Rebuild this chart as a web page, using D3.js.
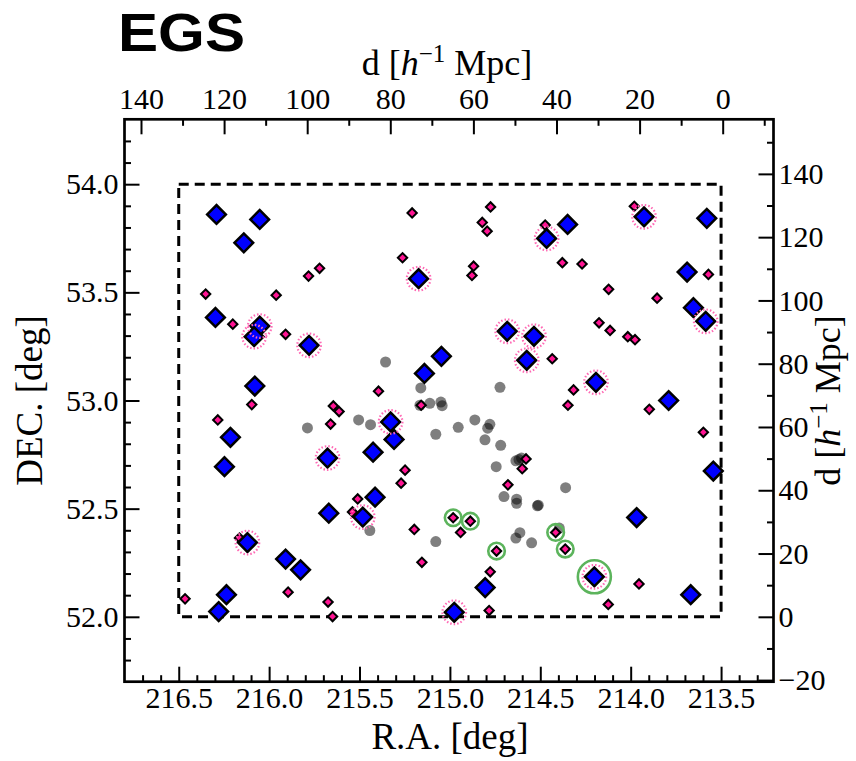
<!DOCTYPE html>
<html>
<head>
<meta charset="utf-8">
<script src="https://cdn.jsdelivr.net/npm/d3@7"></script>
<style>
  html, body { margin: 0; padding: 0; background: #fff; }
  svg { display: block; }
  text { font-family: "Liberation Serif", "Times New Roman", serif; fill: #000; }
  text.title { font-family: "Liberation Sans", Arial, sans-serif; font-weight: bold; }
</style>
</head>
<body>
<svg id="chart" width="856" height="761"></svg>
<script>
// Survey field outline, degrees
const fieldRA = [216.5, 213.5];
const fieldDEC = [52.0, 54.0];

// Blue diamonds: [R.A., DEC.] in degrees
const blueObjs = [
  [216.291, 53.860], [216.052, 53.837], [216.140, 53.729], [215.173, 53.563],
  [216.297, 53.384], [216.052, 53.344], [216.083, 53.295], [215.779, 53.255],
  [215.047, 53.204], [215.141, 53.125], [216.079, 53.067], [215.328, 52.901],
  [215.309, 52.820], [215.425, 52.761], [215.677, 52.734], [216.214, 52.830],
  [216.247, 52.694], [215.414, 52.553], [215.670, 52.479], [215.482, 52.461],
  [216.120, 52.343], [215.909, 52.267], [215.826, 52.217], [216.236, 52.102],
  [216.279, 52.024], [214.976, 52.021], [214.805, 52.135], [214.201, 52.185],
  [213.967, 52.459], [213.668, 52.102], [213.543, 52.674], [213.790, 53.000],
  [213.585, 53.366], [213.653, 53.429], [213.688, 53.594], [213.579, 53.842],
  [213.926, 53.849], [214.349, 53.814], [214.465, 53.749], [214.683, 53.320],
  [214.535, 53.297], [214.575, 53.186], [214.192, 53.084]
];

// Pink diamonds: [R.A., DEC.]
const pinkObjs = [
  [215.209, 53.867], [215.262, 53.660], [215.782, 53.575], [215.721, 53.611],
  [216.351, 53.492], [215.961, 53.487], [216.201, 53.353], [215.909, 53.306],
  [215.395, 53.043], [216.096, 52.981], [215.645, 52.975], [215.613, 52.949],
  [215.159, 52.978], [216.284, 52.910], [215.660, 52.891], [215.248, 52.678],
  [215.270, 52.618], [215.510, 52.545], [215.539, 52.485], [216.164, 52.364],
  [215.197, 52.404], [215.155, 52.252], [216.465, 52.083], [215.895, 52.114],
  [215.674, 52.068], [215.649, 52.001], [214.775, 53.895], [214.821, 53.823],
  [214.794, 53.783], [214.473, 53.811], [213.980, 53.898], [214.378, 53.637],
  [214.269, 53.631], [214.869, 53.621], [214.878, 53.578], [213.570, 53.583],
  [214.122, 53.514], [213.854, 53.473], [214.175, 53.359], [214.114, 53.324],
  [214.016, 53.295], [213.976, 53.281], [214.434, 53.193], [214.316, 53.049],
  [214.347, 52.978], [213.897, 52.959], [213.598, 52.853], [214.579, 52.730],
  [214.600, 52.685], [214.679, 52.610], [214.982, 52.458], [214.887, 52.442],
  [214.941, 52.390], [214.415, 52.390], [214.362, 52.313], [214.742, 52.304],
  [214.777, 52.208], [213.954, 52.152], [214.783, 52.029], [214.124, 52.057]
];

// Grey translucent points: [R.A., DEC.]
const grayObjs = [
  [215.356, 53.178], [215.161, 53.058], [215.166, 52.978], [215.111, 52.987],
  [215.050, 52.993], [215.043, 52.976], [214.723, 53.061], [215.505, 52.910],
  [215.439, 52.888], [215.078, 52.844], [214.954, 52.876], [214.862, 52.910],
  [214.779, 52.890], [214.791, 52.872], [214.806, 52.818], [214.719, 52.793],
  [214.635, 52.721], [214.618, 52.727], [214.604, 52.734], [214.744, 52.694],
  [214.360, 52.597], [214.701, 52.556], [214.631, 52.544], [214.631, 52.525],
  [214.511, 52.516], [214.516, 52.513], [215.443, 52.399], [215.078, 52.348],
  [214.613, 52.389], [214.635, 52.364], [214.548, 52.342], [214.395, 52.410],
  [215.788, 52.873]
];

// Which blue diamonds carry a dotted pink ring, and which objects get a green ring
const ringedBlue = [3, 5, 6, 7, 11, 14, 19, 20, 25, 27, 32, 36, 38, 39, 40, 41, 42];
const greenPink = [50, 51, 53, 54, 55];
const greenBlue = [27];

// Tick positions
const raTicks = [216.5, 216.0, 215.5, 215.0, 214.5, 214.0, 213.5];
const decTicks = [52.0, 52.5, 53.0, 53.5, 54.0];
const distTopTicks = [0, 20, 40, 60, 80, 100, 120, 140];
const distRightTicks = [-20, 0, 20, 40, 60, 80, 100, 120, 140];

// Comoving-distance conversion along DEC (h^-1 Mpc per degree)
const mpcPerDegDec = 68.37;

const svg = d3.select("#chart");
const L = 124.5, R = 773.5, T = 119.3, B = 681.7;

const x = d3.scaleLinear().domain([216.8, 213.21]).range([L, R]);
const y = d3.scaleLinear().domain([51.7, 54.3]).range([B, T]);
const yDist = d3.scaleLinear()
  .domain([(51.7 - fieldDEC[0]) * mpcPerDegDec, (54.3 - fieldDEC[0]) * mpcPerDegDec])
  .range([B, T]);
const xDist = d3.scaleLinear().domain([143.97, -12.23]).range([L, R]);

// Field boundary
svg.append("rect")
  .attr("x", x(fieldRA[0])).attr("y", y(fieldDEC[1]))
  .attr("width", x(fieldRA[1]) - x(fieldRA[0]))
  .attr("height", y(fieldDEC[0]) - y(fieldDEC[1]))
  .attr("fill", "none").attr("stroke", "#000")
  .attr("stroke-width", 3).attr("stroke-dasharray", "10,6");

// Grey points
svg.append("g").selectAll("circle").data(grayObjs).join("circle")
  .attr("cx", d => x(d[0])).attr("cy", d => y(d[1])).attr("r", 5.5)
  .attr("fill", "#000").attr("fill-opacity", 0.5);

const diamond = (s) => d3.symbol().type(d3.symbolSquare).size(s)();

// Pink diamonds
svg.append("g").selectAll("path").data(pinkObjs).join("path")
  .attr("d", diamond(44))
  .attr("transform", d => `translate(${x(d[0])},${y(d[1])}) rotate(45)`)
  .attr("fill", "#ff1493").attr("stroke", "#000").attr("stroke-width", 2);

// Blue diamonds
svg.append("g").selectAll("path").data(blueObjs).join("path")
  .attr("d", diamond(175))
  .attr("transform", d => `translate(${x(d[0])},${y(d[1])}) rotate(45)`)
  .attr("fill", "#0000ff").attr("stroke", "#000").attr("stroke-width", 2.5);

// Dotted pink rings
svg.append("g").selectAll("circle").data(ringedBlue.map(i => blueObjs[i])).join("circle")
  .attr("cx", d => x(d[0])).attr("cy", d => y(d[1])).attr("r", 11.8)
  .attr("fill", "none").attr("stroke", "#ff69b4").attr("stroke-width", 2.2)
  .attr("stroke-dasharray", "1.5,2");

// Green rings
const greenStyle = sel => sel.attr("fill", "none").attr("stroke", "#5cb45c")
  .attr("stroke-width", 2.6);
svg.append("g").selectAll("circle").data(greenPink.map(i => pinkObjs[i])).join("circle")
  .attr("cx", d => x(d[0])).attr("cy", d => y(d[1])).attr("r", 8.3)
  .call(greenStyle);
svg.append("g").selectAll("circle").data(greenBlue.map(i => blueObjs[i])).join("circle")
  .attr("cx", d => x(d[0])).attr("cy", d => y(d[1])).attr("r", 16.5)
  .call(greenStyle);

// Axes
const MAJ = -15, MIN = -6.5;
function minorRange(a, b, step, majors) {
  const out = [];
  for (let v = Math.round(a / step); v <= Math.round(b / step); v++) {
    const val = +(v * step).toFixed(4);
    if (!majors.some(m => Math.abs(m - val) < 1e-6)) out.push(val);
  }
  return out;
}
function styleAxis(g) {
  g.select(".domain").remove();
  g.selectAll(".tick line").attr("stroke", "#000").attr("stroke-width", 2);
  g.selectAll(".tick text").attr("font-size", 30);
}

// bottom: R.A.
svg.append("g").attr("transform", `translate(0,${B})`)
  .call(d3.axisBottom(x).tickValues(raTicks).tickFormat(d3.format(".1f"))
    .tickSizeInner(MAJ).tickSizeOuter(0).tickPadding(5)).call(styleAxis);
svg.append("g").attr("transform", `translate(0,${B})`)
  .call(d3.axisBottom(x).tickValues(minorRange(213.3, 216.7, 0.1, raTicks))
    .tickFormat("").tickSizeInner(MIN).tickSizeOuter(0)).call(styleAxis);

// left: DEC.
svg.append("g").attr("transform", `translate(${L},0)`)
  .call(d3.axisLeft(y).tickValues(decTicks).tickFormat(d3.format(".1f"))
    .tickSizeInner(MAJ).tickSizeOuter(0).tickPadding(6)).call(styleAxis);
svg.append("g").attr("transform", `translate(${L},0)`)
  .call(d3.axisLeft(y).tickValues(minorRange(51.8, 54.2, 0.1, decTicks))
    .tickFormat("").tickSizeInner(MIN).tickSizeOuter(0)).call(styleAxis);

// top: distance
svg.append("g").attr("transform", `translate(0,${T})`)
  .call(d3.axisTop(xDist).tickValues(distTopTicks).tickFormat(d3.format("d"))
    .tickSizeInner(MAJ).tickSizeOuter(0).tickPadding(10)).call(styleAxis);
svg.append("g").attr("transform", `translate(0,${T})`)
  .call(d3.axisTop(xDist).tickValues(minorRange(-10, 130, 10, distTopTicks))
    .tickFormat("").tickSizeInner(MIN).tickSizeOuter(0)).call(styleAxis);

// right: distance
svg.append("g").attr("transform", `translate(${R},0)`)
  .call(d3.axisRight(yDist).tickValues(distRightTicks).tickFormat(d3.format("d"))
    .tickSizeInner(MAJ).tickSizeOuter(0).tickPadding(5)).call(styleAxis);
svg.append("g").attr("transform", `translate(${R},0)`)
  .call(d3.axisRight(yDist).tickValues(minorRange(-10, 150, 10, distRightTicks))
    .tickFormat("").tickSizeInner(MIN).tickSizeOuter(0)).call(styleAxis);

// Frame
svg.append("rect").attr("x", L).attr("y", T).attr("width", R - L).attr("height", B - T)
  .attr("fill", "none").attr("stroke", "#000").attr("stroke-width", 2.7);

// Axis titles
svg.append("text").attr("x", (L + R) / 2 + 1).attr("y", 749)
  .attr("text-anchor", "middle").attr("font-size", 37).text("R.A. [deg]");
svg.append("text").attr("transform", `translate(42,${(T + B) / 2}) rotate(-90)`)
  .attr("text-anchor", "middle").attr("font-size", 37).text("DEC. [deg]");

function distLabel(sel) {
  sel.attr("text-anchor", "middle").attr("font-size", 36);
  sel.append("tspan").text("d [");
  sel.append("tspan").attr("font-style", "italic").text("h");
  sel.append("tspan").attr("font-size", 25).attr("dy", -13).text("\u22121");
  sel.append("tspan").attr("dy", 13).text(" Mpc]");
}
svg.append("text").attr("x", 447).attr("y", 75).call(distLabel);
svg.append("text").attr("transform", `translate(840,${(T + B) / 2}) rotate(-90)`).call(distLabel);

// Title
svg.append("text").attr("class", "title").attr("x", 118).attr("y", 51)
  .attr("font-size", 53).attr("textLength", 127).attr("lengthAdjust", "spacingAndGlyphs")
  .text("EGS");
</script>
</body>
</html>
